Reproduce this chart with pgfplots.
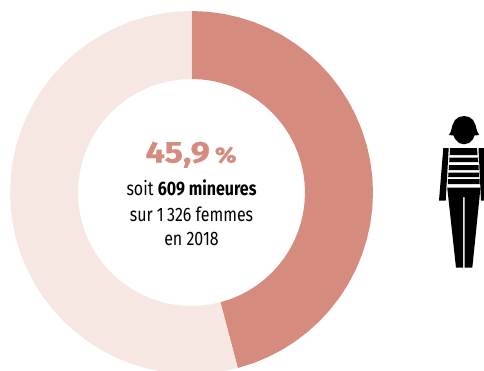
\documentclass[border=0pt]{standalone}
\usepackage{pgfplots}
\pgfplotsset{compat=1.18}
\usepackage{fontspec}
\setmainfont{Fira Sans}[FakeStretch=0.82]
\newfontfamily\bigfont{Fira Sans}[FakeStretch=1.15,BoldFeatures={FakeBold=0.6}]
\definecolor{dark}{HTML}{D58C7E}
\definecolor{light}{HTML}{F6E7E3}
\begin{document}
\begin{tikzpicture}[x=1pt,y=1pt]
\path[use as bounding box] (0,0) rectangle (484,370);
% donut: centre at (191.5,192.5) in pixels; shares 45.9 and 54.1 %
\begin{axis}[at={(0,0)},anchor=south west,width=484pt,height=370pt,scale only axis,
  xmin=-191.5,xmax=292.5,ymin=-177.5,ymax=192.5,hide axis,clip=true,data cs=polar]
\addplot[fill=dark,draw=none] coordinates {
(90,181.5)(85,181.5)(80,181.5)(75,181.5)(70,181.5)(65,181.5)(60,181.5)(55,181.5)(50,181.5)(45,181.5)(40,181.5)(35,181.5)(30,181.5)(25,181.5)(20,181.5)(15,181.5)(10,181.5)(5,181.5)(0,181.5)(-5,181.5)(-10,181.5)(-15,181.5)(-20,181.5)(-25,181.5)(-30,181.5)(-35,181.5)(-40,181.5)(-45,181.5)(-50,181.5)(-55,181.5)(-60,181.5)(-65,181.5)(-70,181.5)(-75.24,181.5)
(-75.24,113.5)(-70,113.5)(-65,113.5)(-60,113.5)(-55,113.5)(-50,113.5)(-45,113.5)(-40,113.5)(-35,113.5)(-30,113.5)(-25,113.5)(-20,113.5)(-15,113.5)(-10,113.5)(-5,113.5)(0,113.5)(5,113.5)(10,113.5)(15,113.5)(20,113.5)(25,113.5)(30,113.5)(35,113.5)(40,113.5)(45,113.5)(50,113.5)(55,113.5)(60,113.5)(65,113.5)(70,113.5)(75,113.5)(80,113.5)(85,113.5)(90,113.5)} --cycle;
\addplot[fill=light,draw=none] coordinates {
(90,181.5)(95,181.5)(100,181.5)(105,181.5)(110,181.5)(115,181.5)(120,181.5)(125,181.5)(130,181.5)(135,181.5)(140,181.5)(145,181.5)(150,181.5)(155,181.5)(160,181.5)(165,181.5)(170,181.5)(175,181.5)(180,181.5)(185,181.5)(190,181.5)(195,181.5)(200,181.5)(205,181.5)(210,181.5)(215,181.5)(220,181.5)(225,181.5)(230,181.5)(235,181.5)(240,181.5)(245,181.5)(250,181.5)(255,181.5)(260,181.5)(265,181.5)(270,181.5)(275,181.5)(280,181.5)(284.76,181.5)
(284.76,113.5)(280,113.5)(275,113.5)(270,113.5)(265,113.5)(260,113.5)(255,113.5)(250,113.5)(245,113.5)(240,113.5)(235,113.5)(230,113.5)(225,113.5)(220,113.5)(215,113.5)(210,113.5)(205,113.5)(200,113.5)(195,113.5)(190,113.5)(185,113.5)(180,113.5)(175,113.5)(170,113.5)(165,113.5)(160,113.5)(155,113.5)(150,113.5)(145,113.5)(140,113.5)(135,113.5)(130,113.5)(125,113.5)(120,113.5)(115,113.5)(110,113.5)(105,113.5)(100,113.5)(95,113.5)(90,113.5)} --cycle;
\end{axis}
% figure and text, in pixel coordinates
\begin{axis}[at={(0,0)},anchor=south west,width=484pt,height=370pt,scale only axis,
  xmin=0,xmax=484,ymin=0,ymax=370,y dir=reverse,hide axis,clip=true]
% hair and face
\addplot[fill=black,draw=none] coordinates {(449,135)(451,131)(452.5,125)(455,120)(459,117)(464,116)(469,117)(473,120)(475.5,125)(477,131)(479,135)(474.5,135.5)(473,139)(469,143)(464,144.3)(459,143)(455,139)(453.5,135.5)} --cycle;
% arms
\addplot[fill=black,draw=none] coordinates {(443.3,148)(448.7,148)(445.7,200.5)(439,200.5)} --cycle;
\addplot[fill=black,draw=none] coordinates {(478.5,148)(484,148)(484,200.5)(481,200.5)} --cycle;
% torso stripes
\addplot[fill=black,draw=none] coordinates {(450,148)(477,148)(477.5,155)(449.7,155)} --cycle;
\addplot[fill=black,draw=none] coordinates {(449.5,157.5)(478,157.5)(478.3,162)(449.2,162)} --cycle;
\addplot[fill=black,draw=none] coordinates {(449,165)(478.5,165)(478.8,170)(448.7,170)} --cycle;
\addplot[fill=black,draw=none] coordinates {(448.5,172.5)(479,172.5)(479.2,177)(448.2,177)} --cycle;
\addplot[fill=black,draw=none] coordinates {(448,179)(479.5,179)(479.7,184)(447.8,184)} --cycle;
% legs
\addplot[fill=black,draw=none] coordinates {(447.2,187.5)(480.5,187.5)(472.3,267.7)(464.7,267.7)(464.7,197)(463.2,197)(463.2,267.7)(456,267.7)} --cycle;
\node[text=dark,font=\bigfont\bfseries\fontsize{30}{30}\selectfont,anchor=base] at (axis cs:191,162.5) {45,9\,{\fontsize{22}{22}\selectfont\%}};
\node[font=\fontsize{19.5}{19.5}\selectfont,anchor=base] at (axis cs:191.5,195.7) {soit \textbf{609 mineures}};
\node[font=\fontsize{19.5}{19.5}\selectfont,anchor=base] at (axis cs:191.5,221) {sur 1\,326 femmes};
\node[font=\fontsize{19.5}{19.5}\selectfont,anchor=base] at (axis cs:191.5,245.5) {en 2018};
\end{axis}
\end{tikzpicture}
\end{document}
